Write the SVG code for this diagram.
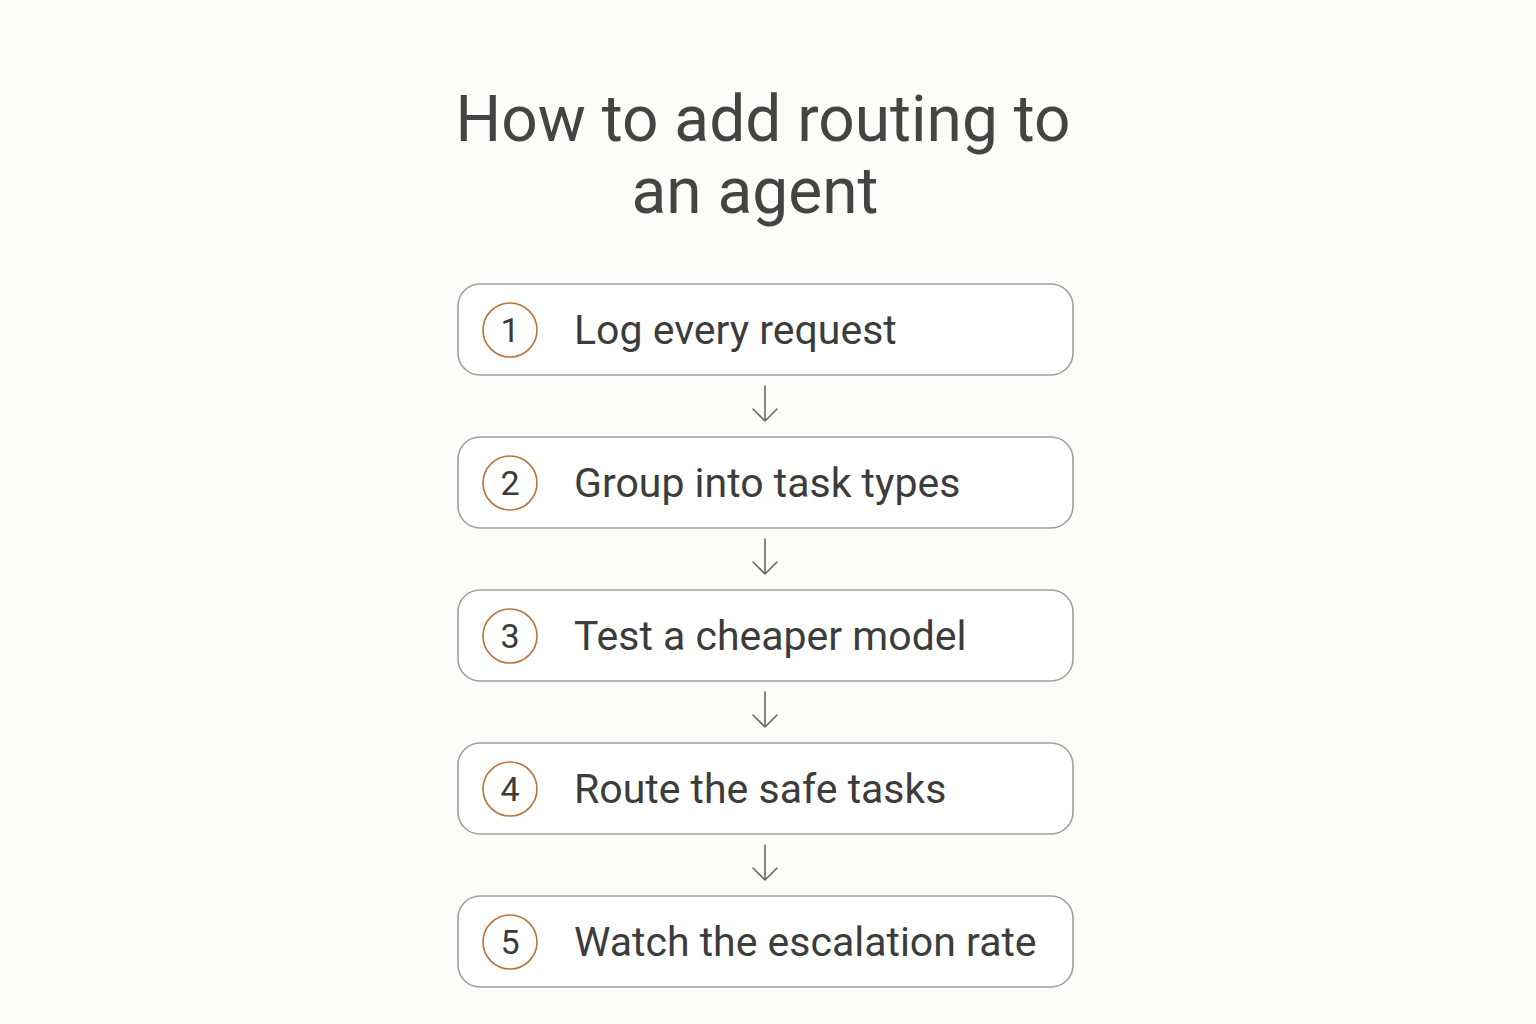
<svg xmlns="http://www.w3.org/2000/svg" width="1536" height="1024" viewBox="0 0 1536 1024">
<style>
.box{fill:#ffffff;stroke:#a0a0a0;stroke-width:1.6}
.num{fill:none;stroke:#b87438;stroke-width:1.6}
.numt{font-family:Roboto,"Liberation Sans",sans-serif;font-size:34px;fill:#3a3a3a;text-anchor:middle}
.lbl{font-family:Roboto,"Liberation Sans",sans-serif;font-size:41px;fill:#3c3c3c}
.title{font-family:Roboto,"Liberation Sans",sans-serif;font-size:64px;fill:#444444;text-anchor:middle}
.arr{fill:none;stroke:#6a6a6a;stroke-width:1.6;stroke-linecap:round;stroke-linejoin:round}
</style>
<rect width="1536" height="1024" fill="#fcfcfa"/>
<g id="title">
<text class="title" x="763" y="141">How to add routing to</text>
<text class="title" x="755" y="213">an agent</text>
</g>
<g id="connectors">
<path class="arr" d="M765 386V421M753 409L765 421L777 409"/>
<path class="arr" d="M765 539V574M753 562L765 574L777 562"/>
<path class="arr" d="M765 692V727M753 715L765 727L777 715"/>
<path class="arr" d="M765 845V880M753 868L765 880L777 868"/>
</g>
<g id="step1">
<rect class="box" x="458" y="284" width="615" height="91" rx="22"/>
<circle class="num" cx="510" cy="330" r="27"/>
<text class="numt" x="510" y="342">1</text>
<text class="lbl" x="574" y="344">Log every request</text>
</g>
<g id="step2">
<rect class="box" x="458" y="437" width="615" height="91" rx="22"/>
<circle class="num" cx="510" cy="483" r="27"/>
<text class="numt" x="510" y="495">2</text>
<text class="lbl" x="574" y="497">Group into task types</text>
</g>
<g id="step3">
<rect class="box" x="458" y="590" width="615" height="91" rx="22"/>
<circle class="num" cx="510" cy="636" r="27"/>
<text class="numt" x="510" y="648">3</text>
<text class="lbl" x="574" y="650">Test a cheaper model</text>
</g>
<g id="step4">
<rect class="box" x="458" y="743" width="615" height="91" rx="22"/>
<circle class="num" cx="510" cy="789" r="27"/>
<text class="numt" x="510" y="801">4</text>
<text class="lbl" x="574" y="803">Route the safe tasks</text>
</g>
<g id="step5">
<rect class="box" x="458" y="896" width="615" height="91" rx="22"/>
<circle class="num" cx="510" cy="942" r="27"/>
<text class="numt" x="510" y="954">5</text>
<text class="lbl" x="574" y="956">Watch the escalation rate</text>
</g>
</svg>
